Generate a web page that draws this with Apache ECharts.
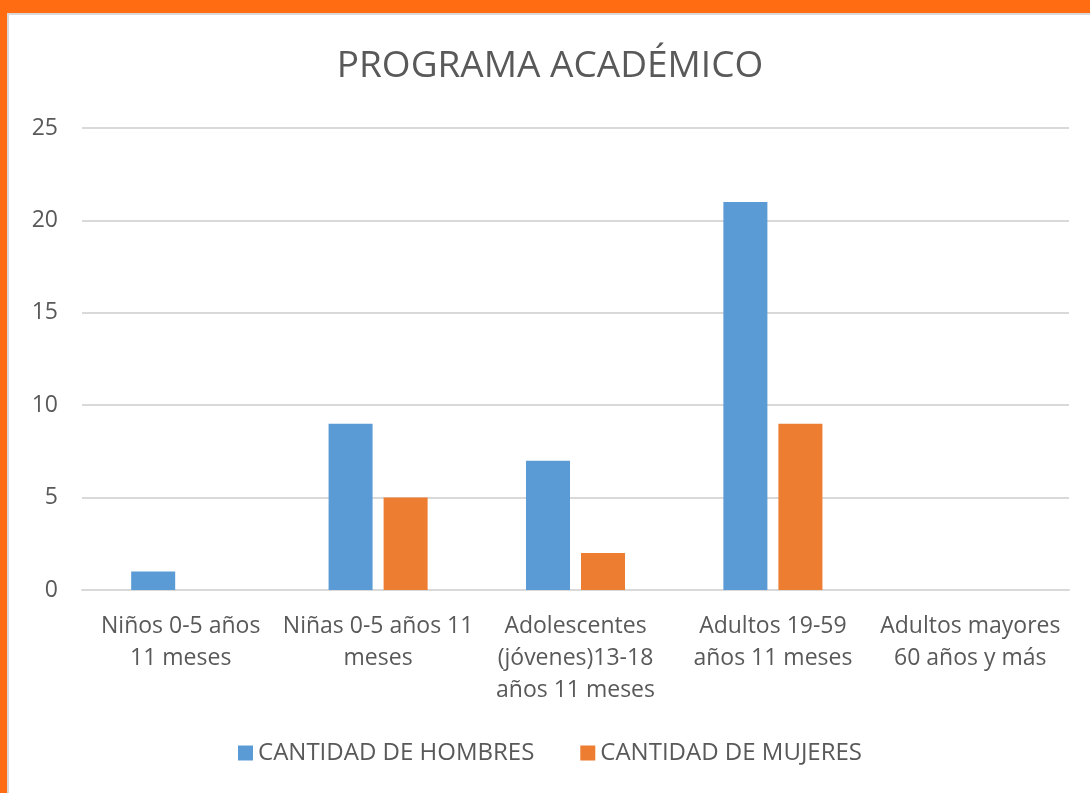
<!DOCTYPE html>
<html style="height: 100%">
<head>
    <meta charset="utf-8">
    <title>Programa académico</title>
    <script src="https://cdn.jsdelivr.net/npm/echarts@6/dist/echarts.min.js"></script>
</head>
<body style="height: 100%; margin: 0; background: #ffffff">
<!-- marco naranja arriba y a la izquierda -->
<div style="position:absolute; left:0; top:0; width:1090px; height:13px; background:#FF6C12"></div>
<div style="position:absolute; left:0; top:0; width:7px; height:793px; background:#FF6C12"></div>
<div style="position:absolute; left:7px; top:13px; width:1083px; height:2px; background:#d9d9d9"></div>
<div style="position:absolute; left:7px; top:13px; width:2px; height:780px; background:#d9d9d9"></div>
<div id="main" style="position:absolute; left:10px; top:15px; width:1080px; height:778px"></div>
<script type="text/javascript">

    var categorias = [
        'Niños 0-5 años\n11 meses',
        'Niñas 0-5 años 11\nmeses',
        'Adolescentes\n(jóvenes)13-18\naños 11 meses',
        'Adultos 19-59\naños 11 meses',
        'Adultos mayores\n60 años y más'
    ];
    var hombres = [1, 9, 7, 21, 0];
    var mujeres = [0, 5, 2, 9, 0];

    var fuente = 'Open Sans';
    var gris = '#595959';

    var myChart = echarts.init(document.getElementById('main'));

    var option = {
        animation: false,
        title: {
            text: 'PROGRAMA ACADÉMICO',
            left: 'center',
            top: 28,
            textStyle: { fontFamily: fuente, fontSize: 37, fontWeight: 'normal', color: gris }
        },
        legend: {
            bottom: 23,
            left: 'center',
            itemWidth: 15,
            itemHeight: 15,
            itemGap: 46,
            icon: 'rect',
            textStyle: { fontFamily: fuente, fontSize: 24, color: gris }
        },
        grid: { left: 72, right: 21, top: 113, bottom: 203 },
        xAxis: {
            type: 'category',
            data: categorias,
            axisTick: { show: false },
            axisLine: { lineStyle: { color: '#d9d9d9', width: 2 } },
            axisLabel: {
                interval: 0,
                margin: 20,
                lineHeight: 32,
                fontFamily: fuente,
                fontSize: 23,
                color: gris
            }
        },
        yAxis: {
            type: 'value',
            min: 0,
            max: 25,
            interval: 5,
            axisLine: { show: false },
            axisTick: { show: false },
            axisLabel: { margin: 24, fontFamily: fuente, fontSize: 23, color: gris },
            splitLine: { lineStyle: { color: '#d9d9d9', width: 2 } }
        },
        series: [
            {
                name: 'CANTIDAD DE HOMBRES',
                type: 'bar',
                data: hombres,
                barWidth: '22.3%',
                barGap: '25%',
                itemStyle: { color: '#5B9BD5' }
            },
            {
                name: 'CANTIDAD DE MUJERES',
                type: 'bar',
                data: mujeres,
                barWidth: '22.3%',
                barGap: '25%',
                itemStyle: { color: '#ED7D31' }
            }
        ]
    };

    myChart.setOption(option);
</script>
</body>
</html>
